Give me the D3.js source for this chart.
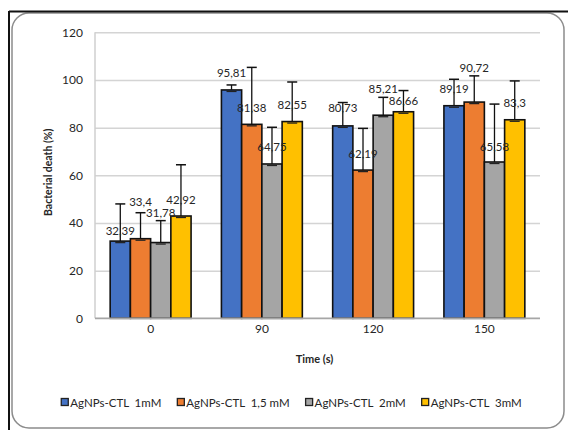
<!DOCTYPE html>
<html>
<head>
<meta charset="utf-8">
<script src="https://cdn.jsdelivr.net/npm/d3@7"></script>
<style>
  html, body { margin: 0; padding: 0; background: #fff; }
  svg { display: block; }
  text { white-space: pre; }
</style>
</head>
<body>
<svg id="chart" width="568" height="430"></svg>
<script>
// ---- data ----
const categories = ["0", "90", "120", "150"];
const seriesNames = ["AgNPs-CTL  1mM", "AgNPs-CTL  1,5 mM", "AgNPs-CTL  2mM", "AgNPs-CTL  3mM"];
const values1mM  = [32.39, 95.81, 80.73, 89.19];
const values15mM = [33.4, 81.38, 62.19, 90.72];
const values2mM  = [31.78, 64.75, 85.21, 65.58];
const values3mM  = [42.92, 82.55, 86.66, 83.3];
const errors1mM  = [15.6, 2.1, 9.8, 11.1];
const errors15mM = [10.9, 23.9, 17.5, 11.0];
const errors2mM  = [9.2, 15.4, 7.5, 24.3];
const errors3mM  = [21.5, 16.6, 8.9, 16.3];
const yTicks = [0, 20, 40, 60, 80, 100, 120];

// ---- layout / style (not data) ----
const colors = ["#4472C4", "#ED7D31", "#A5A5A5", "#FFC000"];
// per-label lift (px) of the label centre above its bar top, as placed in the reference
const labelLift = [
  [11, 37, 30, 17],
  [17, 17, 17, 17],
  [18, 17, 27, 11],
  [17, 35, 16, 17]
];
const FONT = "Lato, 'Open Sans', 'DejaVu Sans', sans-serif";
const TEXT = "#262626";

const seriesValues = [values1mM, values15mM, values2mM, values3mM];
const seriesErrors = [errors1mM, errors15mM, errors2mM, errors3mM];

const svg = d3.select("#chart");

// frame (cropped screenshot border)
svg.append("rect").attr("x", 12).attr("y", 13).attr("width", 552).attr("height", 415)
  .attr("rx", 17).attr("ry", 17).attr("fill", "#fff").attr("stroke", "#8c8c8c").attr("stroke-width", 1.5);
svg.append("line").attr("x1", 9).attr("x2", 568).attr("y1", 11.5).attr("y2", 11.5)
  .attr("stroke", "#111").attr("stroke-width", 2);
svg.append("line").attr("x1", 9).attr("x2", 9).attr("y1", 11).attr("y2", 430)
  .attr("stroke", "#111").attr("stroke-width", 2);

const plot = { left: 95, right: 540, top: 32.3, bottom: 318.3 };

const x0 = d3.scaleBand().domain(categories).range([plot.left, plot.right]).padding(0);
const x1 = d3.scaleBand().domain(d3.range(seriesNames.length))
  .range([0, x0.bandwidth()]).paddingInner(0).paddingOuter(0.75);
const y = d3.scaleLinear().domain([0, 120]).range([plot.bottom, plot.top]);

// gridlines
const grid = svg.append("g")
  .call(d3.axisLeft(y).tickValues(yTicks).tickSize(-(plot.right - plot.left)).tickFormat(""))
  .attr("transform", `translate(${plot.left},0)`);
grid.select(".domain").remove();
grid.selectAll(".tick line").attr("stroke", "#d4d4d4").attr("stroke-width", 1.5);

// y axis line
svg.append("line").attr("x1", plot.left).attr("x2", plot.left)
  .attr("y1", plot.top).attr("y2", plot.bottom).attr("stroke", "#cfcfcf").attr("stroke-width", 1.5);

// y tick labels
const yAxis = svg.append("g").attr("transform", `translate(${plot.left},0)`)
  .call(d3.axisLeft(y).tickValues(yTicks).tickSize(0).tickPadding(12));
yAxis.select(".domain").remove();
yAxis.selectAll("text").attr("font-family", FONT).attr("font-size", 12).attr("fill", TEXT);

// bars
const groups = svg.append("g").selectAll("g").data(categories).join("g")
  .attr("transform", d => `translate(${x0(d)},0)`);

groups.each(function(cat, ci) {
  const g = d3.select(this);
  seriesValues.forEach((vals, si) => {
    const v = vals[ci];
    const bx = x1(si), bw = x1.bandwidth();
    g.append("rect")
      .attr("x", bx).attr("y", y(v)).attr("width", bw).attr("height", y(0) - y(v))
      .attr("fill", colors[si]).attr("stroke", "#111").attr("stroke-width", 1.6);
  });
});

// error bars
groups.each(function(cat, ci) {
  const g = d3.select(this);
  seriesValues.forEach((vals, si) => {
    const v = vals[ci];
    const e = seriesErrors[si][ci];
    const cx = x1(si) + x1.bandwidth() / 2;
    const cap = 5;
    g.append("line").attr("x1", cx).attr("x2", cx).attr("y1", y(v)).attr("y2", y(v + e))
      .attr("stroke", "#111").attr("stroke-width", 1.3);
    g.append("line").attr("x1", cx - cap).attr("x2", cx + cap).attr("y1", y(v + e)).attr("y2", y(v + e))
      .attr("stroke", "#111").attr("stroke-width", 1.5);
    g.append("line").attr("x1", cx - cap).attr("x2", cx + cap).attr("y1", y(v) + 1.5).attr("y2", y(v) + 1.5)
      .attr("stroke", "#222").attr("stroke-width", 1.3);
  });
});

// data labels
groups.each(function(cat, ci) {
  const g = d3.select(this);
  seriesValues.forEach((vals, si) => {
    const v = vals[ci];
    const cx = x1(si) + x1.bandwidth() / 2;
    g.append("text")
      .attr("x", cx).attr("y", y(v) - labelLift[ci][si])
      .attr("text-anchor", "middle").attr("dominant-baseline", "central")
      .attr("font-family", FONT).attr("font-size", 11.5).attr("fill", TEXT)
      .text(String(v).replace(".", ","));
  });
});

// x axis line
svg.append("line").attr("x1", plot.left).attr("x2", plot.right)
  .attr("y1", plot.bottom).attr("y2", plot.bottom).attr("stroke", "#a6a6a6").attr("stroke-width", 1.5);

// x tick labels
const xAxis = svg.append("g").attr("transform", `translate(0,${plot.bottom})`)
  .call(d3.axisBottom(x0).tickSize(0).tickPadding(6));
xAxis.select(".domain").remove();
xAxis.selectAll("text").attr("font-family", FONT).attr("font-size", 12).attr("fill", TEXT);

// axis titles
svg.append("text")
  .attr("transform", `translate(48,${(plot.top + plot.bottom) / 2 - 3}) rotate(-90)`)
  .attr("text-anchor", "middle").attr("dominant-baseline", "central")
  .attr("font-family", FONT).attr("font-size", 10.5).attr("font-weight", "bold").attr("fill", TEXT)
  .text("Bacterial death (%)");
svg.append("text")
  .attr("x", (plot.left + plot.right) / 2 - 3).attr("y", 358)
  .attr("text-anchor", "middle").attr("dominant-baseline", "central")
  .attr("font-family", FONT).attr("font-size", 11).attr("font-weight", "bold").attr("fill", TEXT)
  .text("Time (s)");

// legend
const legend = svg.append("g");
const items = legend.selectAll("g").data(seriesNames).join("g");
items.append("rect").attr("width", 7).attr("height", 7).attr("y", -3.5)
  .attr("fill", (d, i) => colors[i]).attr("stroke", "#222").attr("stroke-width", 1.3);
items.append("text").attr("x", 9).attr("dominant-baseline", "central")
  .attr("font-family", FONT).attr("font-size", 11.5).attr("fill", TEXT)
  .text(d => d);
let widths = [];
items.each(function() { widths.push(9 + d3.select(this).select("text").node().getComputedTextLength()); });
const gap = 16;
const total = d3.sum(widths) + gap * (widths.length - 1);
let cursor = 291.5 - total / 2;
items.each(function(d, i) {
  d3.select(this).attr("transform", `translate(${cursor},402)`);
  cursor += widths[i] + gap;
});
</script>
</body>
</html>
